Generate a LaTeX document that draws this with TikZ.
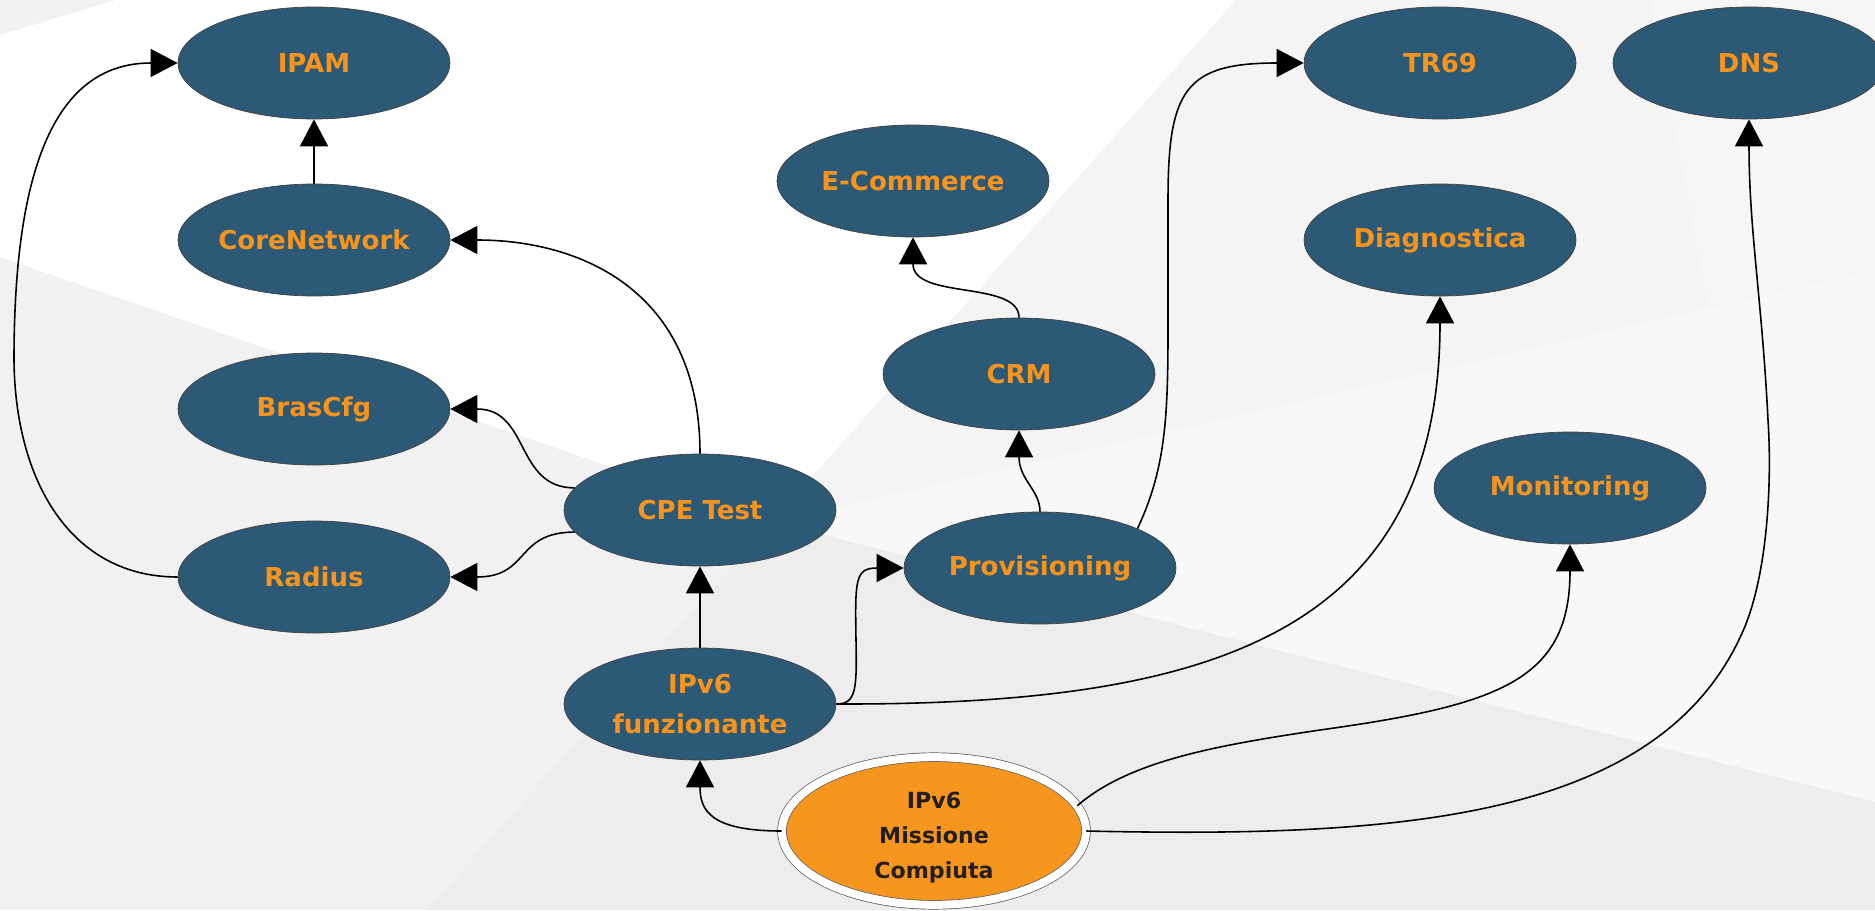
\documentclass[tikz,border=0pt]{standalone}
\usepackage{fontspec}
\setmainfont{DejaVu Sans}
\usepackage{tikz}
\usetikzlibrary{arrows.meta,shapes.geometric}
\definecolor{topicblue}{HTML}{2B5976}
\definecolor{topicorange}{HTML}{F7941D}
\definecolor{goalorange}{HTML}{F7961E}
\definecolor{goaltext}{HTML}{231F20}
\definecolor{bgbase}{HTML}{F1F1F1}
\definecolor{bgupper}{HTML}{F4F4F4}
\definecolor{bgband}{HTML}{F8F8F8}
\definecolor{bglow}{HTML}{EDEDED}
\tikzset{
topic/.style = {ellipse, draw=black!75, line width=0.4pt, fill=topicblue, text=topicorange,
  font=\bfseries\fontsize{14.8}{22.8}\selectfont, align=center,
  minimum width=5.44cm, minimum height=2.24cm, inner sep=0pt},
goal/.style = {ellipse, draw=black!65, line width=0.4pt, double=white, double distance=0.16cm,
  fill=goalorange, text=goaltext, font=\bfseries\fontsize{12.6}{19.9}\selectfont, align=center,
  minimum width=6.08cm, minimum height=2.93cm, inner sep=0pt},
link/.style = {-{Triangle[length=0.54cm,width=0.56cm]}, line width=0.9pt},
}

\begin{document}
\begin{tikzpicture}
  % Background
    \useasboundingbox (0,0) rectangle (37.5,18.2);
    \fill[bgbase] (0,0) rectangle (37.5,18.2);
    \fill[white] (2.32,18.2) -- (24.72,18.2) -- (15.44,7.76) -- (0,13.06) -- (0,17.5) -- cycle;
    \fill[bgupper] (24.72,18.2) -- (37.5,18.2) -- (37.5,12.8) -- (15.44,7.76) -- cycle;
    \fill[bgband!60!bgupper] (33.0,18.2) -- (37.5,18.2) -- (37.5,12.8) -- (34.16,12.04) -- cycle;
    \fill[bgband] (15.44,7.76) -- (37.5,12.8) -- (37.5,2.16) -- cycle;
    \fill[bglow] (15.44,7.76) -- (37.5,2.16) -- (37.5,0) -- (8.54,0) -- cycle;

  % Nodes
    \node[topic] (ipam) at (6.28,16.94) {IPAM};
    \node[topic] (core) at (6.28,13.40) {CoreNetwork};
    \node[topic] (bras) at (6.28,10.02) {BrasCfg};
    \node[topic] (radius) at (6.28,6.66) {Radius};
    \node[topic] (cpe) at (14.00,8.00) {CPE Test};
    \node[topic] (ipv6) at (14.00,4.12) {IPv6\\funzionante};
    \node[topic] (ecom) at (18.26,14.58) {E-Commerce};
    \node[topic] (crm) at (20.38,10.72) {CRM};
    \node[topic] (prov) at (20.80,6.84) {Provisioning};
    \node[topic] (tr69) at (28.80,16.94) {TR69};
    \node[topic] (diag) at (28.80,13.40) {Diagnostica};
    \node[topic] (moni) at (31.40,8.44) {Monitoring};
    \node[topic] (dns) at (34.98,16.94) {DNS};
    \node[goal] (goal) at (18.68,1.58) {\rule{0pt}{17pt}IPv6\\Missione\\Compiuta};

  % Lines
    \draw[link] (radius.west) .. controls (1.4,6.66) and (0.3,8.6) .. (0.28,11.0)
      .. controls (0.28,14.6) and (1.0,16.94) .. (ipam.west);
    \draw[link] (core.north) -- (ipam.south);
    \draw[link] (cpe.north) .. controls (14.0,12.4) and (11.6,13.4) .. (core.east);
    \draw[link] (cpe.170) .. controls (10.3,8.44) and (10.6,10.02) .. (bras.east);
    \draw[link] (cpe.190) .. controls (10.3,7.56) and (10.6,6.66) .. (radius.east);
    \draw[link] (ipv6.north) -- (cpe.south);
    \draw[link] (ipv6.east) .. controls (17.12,4.12) and (17.14,4.4) .. (17.12,5.4)
      .. controls (17.10,6.6) and (17.1,6.84) .. (prov.west);
    \draw[link] (ipv6.east) .. controls (24.0,4.1) and (28.8,5.4) .. (diag.south);
    \draw[link] (prov.north) .. controls (20.8,8.4) and (20.38,8.6) .. (crm.south);
    \draw[link] (crm.north) .. controls (20.38,12.6) and (18.26,12.2) .. (ecom.south);
    \draw[link] (prov.22) .. controls (23.3,8.8) and (23.36,9.8) .. (23.36,11.6) -- (23.36,14.2)
      .. controls (23.36,16.4) and (23.7,16.94) .. (tr69.west);
    \draw[link] (goal.west) .. controls (14.2,1.58) and (14.0,2.0) .. (ipv6.south);
    \draw[link] (goal.10) .. controls (22.6,3.0) and (24.4,3.3) .. (26.4,3.6)
      .. controls (30.0,4.1) and (31.4,4.6) .. (moni.south);
    \draw[link] (goal.east) .. controls (28.0,1.44) and (33.2,1.8) .. (34.86,5.58)
      .. controls (35.36,6.72) and (35.44,8.6) .. (35.36,9.8)
      .. controls (35.24,12.2) and (34.98,13.6) .. (dns.south);
\end{tikzpicture}
\end{document}
